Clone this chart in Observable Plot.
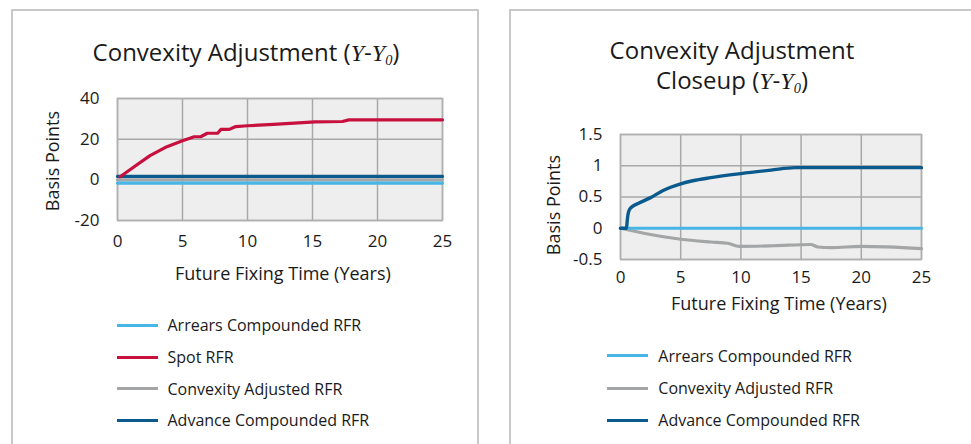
<!DOCTYPE html>
<html>
<head>
<meta charset="utf-8">
<script src="https://cdn.jsdelivr.net/npm/d3@7"></script>
<script src="https://cdn.jsdelivr.net/npm/@observablehq/plot@0.6"></script>
<style>
  body { margin:0; width:971px; height:444px; position:relative; overflow:hidden; background:#fff; font-family:"Open Sans", sans-serif; color:#1a1a1a; }
  .panel { position:absolute; box-sizing:border-box; border:2px solid #c8c8c8; }
  .abs { position:absolute; }
  .title { position:absolute; text-align:center; font-size:24px; line-height:30px; white-space:nowrap; }
  .m { font-family:"Liberation Serif", "DejaVu Serif", serif; font-style:italic; }
  .m sub { font-size:0.6em; vertical-align:baseline; position:relative; top:0.25em; }
  .axt { position:absolute; font-size:18px; line-height:24px; text-align:center; white-space:nowrap; }
  .leg { position:absolute; font-size:16px; line-height:22px; white-space:nowrap; }
  .legline { position:absolute; height:3px; }
</style>
</head>
<body>
<div class="panel" style="left:11px;top:9px;width:468px;height:470px"></div>
<div class="panel" style="left:509px;top:9px;width:480px;height:470px"></div>

<div class="title" style="left:0px;width:492px;top:37px">Convexity Adjustment (<span class="m">Y</span>-<span class="m">Y<sub>0</sub></span>)</div>
<div class="title" style="left:532px;width:400px;top:35px">Convexity Adjustment<br>Closeup (<span class="m">Y</span>-<span class="m">Y<sub>0</sub></span>)</div>

<div id="chartL" class="abs" style="left:0;top:0"></div>
<div id="chartR" class="abs" style="left:500px;top:0"></div>

<div class="axt" style="left:175px;width:200px;top:261px">Future Fixing Time (Years)</div>
<div class="axt" style="left:671px;width:200px;top:291px">Future Fixing Time (Years)</div>
<div class="axt" style="left:-48px;width:200px;top:149px;transform:rotate(-90deg)">Basis Points</div>
<div class="axt" style="left:453px;width:200px;top:193px;transform:rotate(-90deg)">Basis Points</div>

<div id="legL"></div>
<div id="legR"></div>

<script>
// ---------- data ----------
const xTicks = [0, 5, 10, 15, 20, 25];
const yTicksL = [-20, 0, 20, 40];
const yTicksR = [-0.5, 0, 0.5, 1, 1.5];

// Left chart (Convexity Adjustment)
const flatX = [0, 25];
const arrearsL = [-1.6, -1.6];
const convexityL = [0, 0];
const advanceL = [1.7, 1.7];
const spotX = [0.2, 1.2, 2.5, 3.8, 5.0, 5.9, 6.4, 6.9, 7.7, 7.95, 8.6, 9.1, 10, 12, 15.2, 17.3, 17.8, 25];
const spotY = [1.5, 6.1, 11.9, 16.3, 19.2, 21.2, 21.2, 22.9, 22.9, 24.8, 24.8, 26.2, 26.6, 27.3, 28.5, 28.7, 29.5, 29.5];

// Right chart (Closeup)
const arrearsR = [0, 0];
const advRX = [0, 0.5, 0.55, 0.62, 0.75, 1, 1.5, 2.5, 3.5, 5, 6, 7.5, 10, 12.5, 14.5, 25];
const advRY = [0, 0, 0.1, 0.22, 0.3, 0.35, 0.4, 0.49, 0.6, 0.71, 0.76, 0.81, 0.875, 0.93, 0.97, 0.97];
const convRX = [0, 2.5, 5, 7.5, 8.9, 9.85, 12.7, 15.8, 16.4, 17.5, 20, 25];
const convRY = [0, -0.1, -0.176, -0.22, -0.24, -0.29, -0.28, -0.26, -0.3, -0.31, -0.29, -0.325];

const seriesNames = ["Arrears Compounded RFR", "Spot RFR", "Convexity Adjusted RFR", "Advance Compounded RFR"];
const seriesColors = ["#47b6e6", "#c8103e", "#a3a5a6", "#0b5a8e"];

// ---------- helpers ----------
const pts = (xs, ys) => xs.map((x, i) => ({x, y: ys[i]}));
const fmt = d => String(d);

function base(yTicks, xPad) {
  return [
    Plot.frame({fill: "#eeeeee"}),
    Plot.gridX({ticks: xTicks, stroke: "#a8a8a8", strokeOpacity: 1, strokeWidth: 1.5}),
    Plot.gridY({ticks: yTicks, stroke: "#a8a8a8", strokeOpacity: 1, strokeWidth: 1.5}),
    Plot.frame({stroke: "#b0b0b0", strokeWidth: 1.5}),
    Plot.axisX({ticks: xTicks, tickSize: 0, tickPadding: xPad, tickFormat: fmt, label: null, fontSize: 17}),
    Plot.axisY({ticks: yTicks, tickSize: 0, tickPadding: 18, tickFormat: fmt, label: null, fontSize: 17})
  ];
}

const style = {fontFamily: "Open Sans", fontSize: "17px", color: "#1a1a1a", background: "transparent", overflow: "visible"};

const left = Plot.plot({
  width: 485, height: 300,
  marginLeft: 117, marginRight: 43, marginTop: 98, marginBottom: 80,
  x: {domain: [0, 25]},
  y: {domain: [-20, 40]},
  style,
  marks: [
    ...base(yTicksL, 14),
    Plot.line(pts(flatX, convexityL), {x: "x", y: "y", stroke: seriesColors[2], strokeWidth: 3.2}),
    Plot.line(pts(flatX, arrearsL), {x: "x", y: "y", stroke: seriesColors[0], strokeWidth: 3.2}),
    Plot.line(pts(flatX, advanceL), {x: "x", y: "y", stroke: seriesColors[3], strokeWidth: 3.2}),
    Plot.line(pts(spotX, spotY), {x: "x", y: "y", stroke: seriesColors[1], strokeWidth: 3.2, strokeLinejoin: "round"})
  ]
});
document.getElementById("chartL").appendChild(left);

const right = Plot.plot({
  width: 471, height: 330,
  marginLeft: 120, marginRight: 50, marginTop: 134, marginBottom: 71,
  x: {domain: [0, 25]},
  y: {domain: [-0.5, 1.5]},
  style,
  marks: [
    ...base(yTicksR, 11.5),
    Plot.line(pts(convRX, convRY), {x: "x", y: "y", stroke: seriesColors[2], strokeWidth: 3.2, curve: "monotone-x"}),
    Plot.line(pts(flatX, arrearsR), {x: "x", y: "y", stroke: seriesColors[0], strokeWidth: 3.2}),
    Plot.line(pts(advRX, advRY), {x: "x", y: "y", stroke: seriesColors[3], strokeWidth: 3.4, curve: "monotone-x"})
  ]
});
document.getElementById("chartR").appendChild(right);

// ---------- legends ----------
function legend(id, idx, x0, ys) {
  const el = document.getElementById(id);
  idx.forEach((k, i) => {
    const ln = document.createElement("div");
    ln.className = "legline";
    ln.style.left = x0 + "px";
    ln.style.width = "41px";
    ln.style.top = (ys[i] - 1.5) + "px";
    ln.style.background = seriesColors[k];
    el.appendChild(ln);
    const t = document.createElement("div");
    t.className = "leg";
    t.style.left = (x0 + 51) + "px";
    t.style.top = (ys[i] - 11) + "px";
    t.textContent = seriesNames[k];
    el.appendChild(t);
  });
}
legend("legL", [0, 1, 2, 3], 116.5, [325.3, 357, 388.7, 420]);
legend("legR", [0, 2, 3], 607.3, [355.7, 388, 420]);
</script>
</body>
</html>
